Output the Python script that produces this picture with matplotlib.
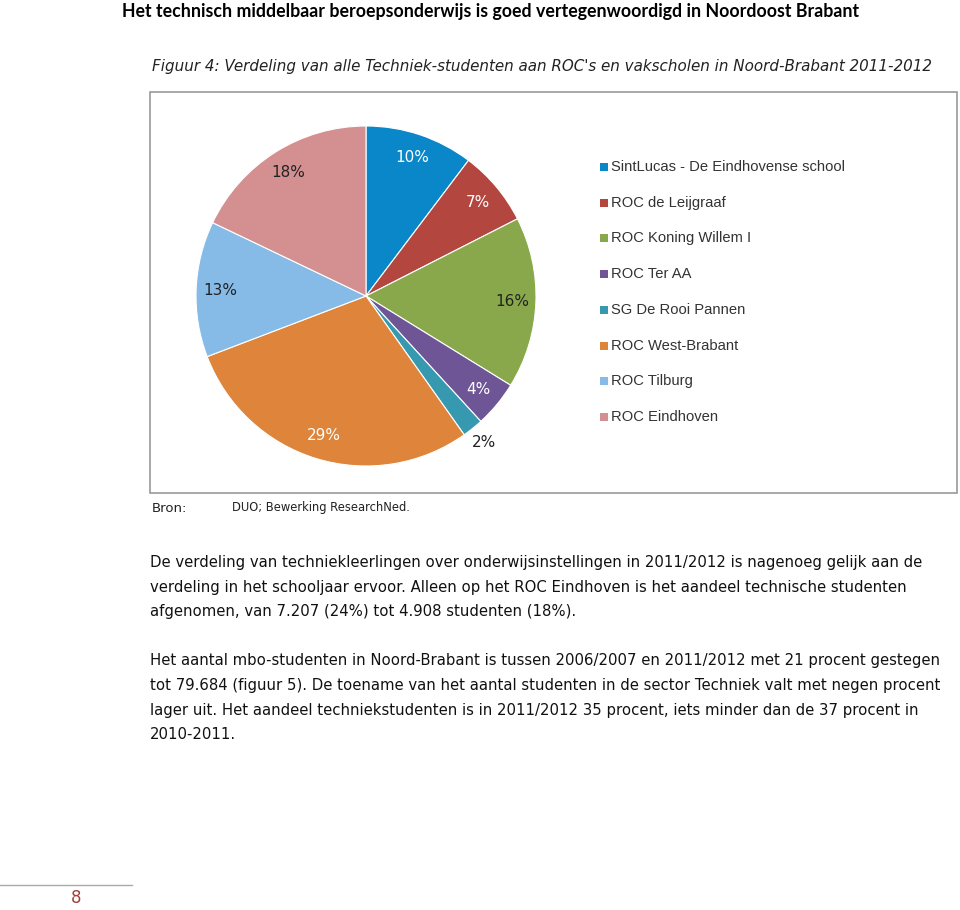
import matplotlib.pyplot as plt
import numpy as np
from matplotlib import font_manager

# share of technology students per school, Noord-Brabant 2011-2012 (%)
schools = ['SintLucas - De Eindhovense school', 'ROC de Leijgraaf', 'ROC Koning Willem I',
           'ROC Ter AA', 'SG De Rooi Pannen', 'ROC West-Brabant', 'ROC Tilburg', 'ROC Eindhoven']
shares = [10.3, 7.2, 16.3, 4.4, 2.0, 29.0, 12.9, 17.9]
pct_labels = ['10%', '7%', '16%', '4%', '2%', '29%', '13%', '18%']
colors = ['#0A87C8', '#B3463F', '#89A84B', '#6E5595', '#3799AF', '#DE843B', '#85BBE6', '#D49090']
label_colors = ['white', 'white', '#222222', 'white', '#222222', 'white', '#222222', '#222222']

W, H = 960, 910
fig = plt.figure(figsize=(W / 100, H / 100), dpi=100)
renderer = fig.canvas.get_renderer()


def has_font(name):
    try:
        font_manager.findfont(name, fallback_to_default=False)
        return True
    except ValueError:
        return False


narrow = 'Liberation Sans Narrow' if has_font('Liberation Sans Narrow') else 'DejaVu Sans'


def px(x, y):
    return x / W, 1 - y / H


def fit(t, width):
    # scale font so the text spans the given pixel width
    w = t.get_window_extent(renderer).width
    t.set_fontsize(t.get_fontsize() * width / w)
    return t.get_fontsize()


# page header
t = fig.text(*px(491, 11), 'Het technisch middelbaar beroepsonderwijs is goed vertegenwoordigd in Noordoost Brabant',
             ha='center', va='center', fontsize=12.5, fontweight='bold', family='Lato')
fit(t, 737)

# figure caption
t = fig.text(*px(152, 67), 'Figuur 4: Verdeling van alle Techniek-studenten aan ROC\'s en vakscholen in Noord-Brabant 2011-2012',
             ha='left', va='center', fontsize=12, style='italic', color='#222222', family=narrow)
fit(t, 776)

# chart frame
frame = plt.Rectangle(px(150, 493), 807 / W, 401 / H, transform=fig.transFigure,
                      fill=False, edgecolor='#9a9a9a', linewidth=1.2)
fig.patches.append(frame)

# pie
cx, cy, r = 366, 296, 170
ax = fig.add_axes([(cx - r) / W, 1 - (cy + r) / H, 2 * r / W, 2 * r / H])
wedges, _ = ax.pie(shares, colors=colors, startangle=90, counterclock=False,
                   wedgeprops=dict(edgecolor='white', linewidth=0.8))
ax.set_xlim(-1, 1)
ax.set_ylim(-1, 1)
ax.set_aspect('equal')
ax.axis('off')

for w, lab, lc in zip(wedges, pct_labels, label_colors):
    mid = np.deg2rad((w.theta1 + w.theta2) / 2)
    d = 1.11 if lab == '2%' else 0.86
    ax.text(d * np.cos(mid), d * np.sin(mid), lab, ha='center', va='center',
            fontsize=11, color=lc)

# legend
leg_size = None
for i, (name, c) in enumerate(zip(schools, colors)):
    y = 167 + i * 35.7
    fig.patches.append(plt.Rectangle(px(600, y + 4), 8 / W, 8 / H, transform=fig.transFigure,
                                     facecolor=c, edgecolor='none'))
    t = fig.text(*px(611, y), name, ha='left', va='center', fontsize=11, color='#333333',
                 family='Liberation Sans')
    if leg_size is None:
        leg_size = fit(t, 232)
    t.set_fontsize(leg_size)

# source
fig.text(*px(152, 508), 'Bron:', ha='left', va='center', fontsize=9.5, color='#222222', family=narrow)
t = fig.text(*px(232, 508), 'DUO; Bewerking ResearchNed.', ha='left', va='center', fontsize=9.5,
             color='#222222', family=narrow)
src_size = fit(t, 180)

para1 = ['De verdeling van techniekleerlingen over onderwijsinstellingen in 2011/2012 is nagenoeg gelijk aan de',
         'verdeling in het schooljaar ervoor. Alleen op het ROC Eindhoven is het aandeel technische studenten',
         'afgenomen, van 7.207 (24%) tot 4.908 studenten (18%).']
para2 = ['Het aantal mbo-studenten in Noord-Brabant is tussen 2006/2007 en 2011/2012 met 21 procent gestegen',
         'tot 79.684 (figuur 5). De toename van het aantal studenten in de sector Techniek valt met negen procent',
         'lager uit. Het aandeel techniekstudenten is in 2011/2012 35 procent, iets minder dan de 37 procent in',
         '2010-2011.']
body_size = None
for i, line in enumerate(para1):
    t = fig.text(*px(150, 563 + i * 24.3), line, ha='left', va='center', fontsize=12.5,
                 color='#111111', family=narrow)
    if body_size is None:
        body_size = fit(t, 773)
    t.set_fontsize(body_size)
for i, line in enumerate(para2):
    fig.text(*px(150, 661 + i * 24.6), line, ha='left', va='center', fontsize=body_size,
             color='#111111', family=narrow)

# footer
fig.add_artist(plt.Line2D([0, 132 / W], [1 - 885 / H] * 2, color='#aaaaaa', linewidth=1))
fig.text(*px(76, 898), '8', ha='center', va='center', fontsize=12, color='#A0403A')

fig.savefig('out.png', dpi=100)
